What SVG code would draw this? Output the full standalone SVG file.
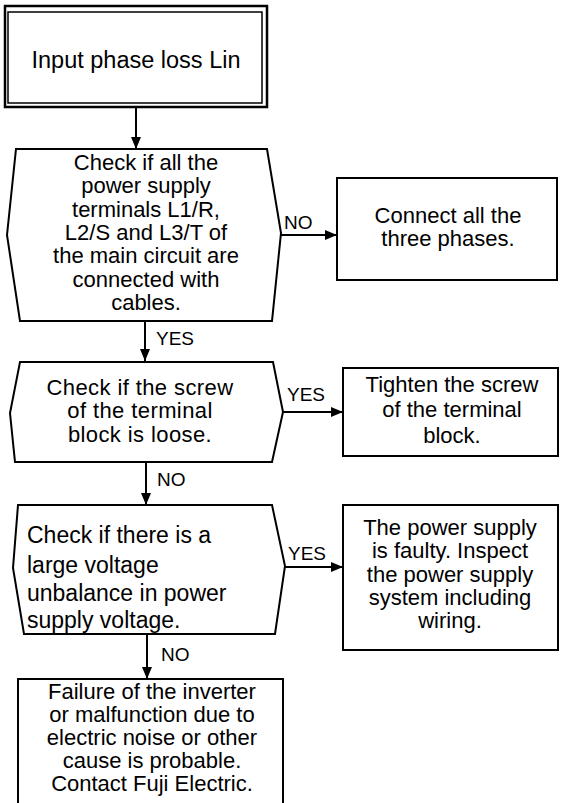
<svg xmlns="http://www.w3.org/2000/svg" width="561" height="803" viewBox="0 0 561 803">
<defs>
<style>
.s{fill:#fff;stroke:#000;stroke-width:2}
.t{font-family:"Liberation Sans",Arial,sans-serif;font-size:22px;fill:#000}
.c{text-anchor:middle}
.l{font-family:"Liberation Sans",Arial,sans-serif;font-size:19px;fill:#000}
.e{fill:none;stroke:#000;stroke-width:2}
</style>
<marker id="ah" markerWidth="12" markerHeight="10" refX="12" refY="5" orient="auto" markerUnits="userSpaceOnUse">
<path d="M0,0 L12,5 L0,10 Z" fill="#000"/>
</marker>
</defs>
<rect width="561" height="803" fill="#fff"/>
<g id="connectors">
<line class="e" x1="136" y1="107" x2="136" y2="149" marker-end="url(#ah)"/>
<line class="e" x1="281" y1="235" x2="337" y2="235" marker-end="url(#ah)"/>
<text class="l" x="284" y="229">NO</text>
<line class="e" x1="145" y1="321" x2="145" y2="361" marker-end="url(#ah)"/>
<text class="l" x="156" y="345">YES</text>
<line class="e" x1="283" y1="412" x2="343" y2="412" marker-end="url(#ah)"/>
<text class="l" x="287" y="401">YES</text>
<line class="e" x1="146" y1="462" x2="146" y2="505" marker-end="url(#ah)"/>
<text class="l" x="157" y="486">NO</text>
<line class="e" x1="285" y1="567" x2="343" y2="567" marker-end="url(#ah)"/>
<text class="l" x="288" y="560">YES</text>
<line class="e" x1="147" y1="634" x2="147" y2="679" marker-end="url(#ah)"/>
<text class="l" x="161" y="661">NO</text>
</g>
<g id="start">
<rect x="5" y="6" width="262" height="101" fill="#fff" stroke="#000" stroke-width="2.5"/>
<rect x="8" y="12" width="254" height="91" fill="none" stroke="#000" stroke-width="1.5"/>
<text class="t c" x="136" y="68" style="font-size:23.5px">Input phase loss Lin</text>
</g>
<g id="decision1">
<polygon class="s" points="16,149 267,149 281,233 272,321 20,321 7,235"/>
<text class="t c" x="146" y="170">Check if all the</text>
<text class="t c" x="146" y="193">power supply</text>
<text class="t c" x="146" y="217">terminals L1/R,</text>
<text class="t c" x="146" y="240">L2/S and L3/T of</text>
<text class="t c" x="146" y="263">the main circuit are</text>
<text class="t c" x="146" y="287">connected with</text>
<text class="t c" x="146" y="310">cables.</text>
</g>
<g id="connect">
<rect class="s" x="337" y="178" width="220" height="102"/>
<text class="t c" x="448" y="223">Connect all the</text>
<text class="t c" x="448" y="246">three phases.</text>
</g>
<g id="decision2">
<polygon class="s" points="20,362 273,362 283,412 272,462 15,462 10,413"/>
<text class="t c" x="140" y="395" style="letter-spacing:0.4px">Check if the screw</text>
<text class="t c" x="140" y="418" style="letter-spacing:0.4px">of the terminal</text>
<text class="t c" x="140" y="442" style="letter-spacing:0.4px">block is loose.</text>
</g>
<g id="tighten">
<rect class="s" x="343" y="368" width="215" height="88"/>
<text class="t c" x="452" y="392">Tighten the screw</text>
<text class="t c" x="452" y="417">of the terminal</text>
<text class="t c" x="452" y="443">block.</text>
</g>
<g id="decision3">
<polygon class="s" points="18,505 272,505 285,566 275,634 24,634 13,568"/>
<text class="t" x="27" y="543" style="font-size:23px">Check if there is a</text>
<text class="t" x="27" y="573" style="font-size:23px">large voltage</text>
<text class="t" x="27" y="601" style="font-size:23px">unbalance in power</text>
<text class="t" x="27" y="628" style="font-size:23px">supply voltage.</text>
</g>
<g id="faulty">
<rect class="s" x="343" y="505" width="215" height="145"/>
<text class="t c" x="450" y="535">The power supply</text>
<text class="t c" x="450" y="558">is faulty. Inspect</text>
<text class="t c" x="450" y="582">the power supply</text>
<text class="t c" x="450" y="605">system including</text>
<text class="t c" x="450" y="628">wiring.</text>
</g>
<g id="failure">
<rect class="s" x="18" y="679" width="265" height="135"/>
<text class="t c" x="152" y="699">Failure of the inverter</text>
<text class="t c" x="152" y="722">or malfunction due to</text>
<text class="t c" x="152" y="745">electric noise or other</text>
<text class="t c" x="152" y="768">cause is probable.</text>
<text class="t c" x="152" y="791">Contact Fuji Electric.</text>
</g>
</svg>
